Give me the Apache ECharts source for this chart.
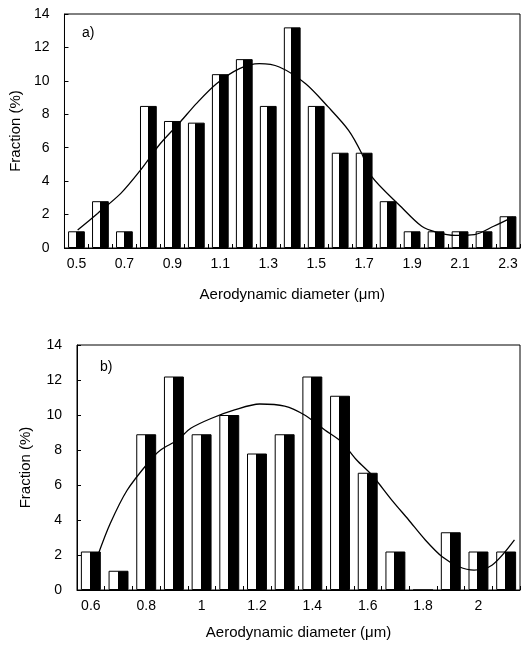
<!DOCTYPE html>
<html>
<head>
<meta charset="utf-8">
<script src="https://cdn.jsdelivr.net/npm/echarts@6/dist/echarts.min.js"></script>
<style>
html,body{margin:0;padding:0;background:#fff;}
#c{width:529px;height:650px;}
</style>
</head>
<body>
<div id="c"></div>
<script>
// Panel a)
var catsA = ['0.5','0.6','0.7','0.8','0.9','1','1.1','1.2','1.3','1.4','1.5','1.6','1.7','1.8','1.9','2','2.1','2.2','2.3'];
var labelsA = ['0.5','0.7','0.9','1.1','1.3','1.5','1.7','1.9','2.1','2.3'];
var barsA = [1.0, 2.8, 1.0, 8.5, 7.6, 7.5, 10.4, 11.3, 8.5, 13.2, 8.5, 5.7, 5.7, 2.8, 1.0, 1.0, 1.0, 1.0, 1.9];
var curveAx = [0.505, 0.588, 0.685, 0.767, 0.85, 0.933, 1.0, 1.084, 1.18, 1.263, 1.346, 1.456, 1.55, 1.635, 1.69, 1.73, 1.855, 1.94, 2.0, 2.08, 2.16, 2.24, 2.32];
var curveAy = [1.07, 2.07, 3.27, 4.66, 6.25, 7.54, 8.64, 9.83, 10.73, 11.03, 10.83, 9.83, 8.44, 7.04, 5.65, 4.3, 2.45, 1.3, 0.95, 0.75, 0.8, 1.3, 1.85];

// Panel b)
var catsB = ['0.6','0.7','0.8','0.9','1','1.1','1.2','1.3','1.4','1.5','1.6','1.7','1.8','1.9','2','2.1'];
var labelsB = ['0.6','0.8','1','1.2','1.4','1.6','1.8','2'];
var barsB = [2.2, 1.1, 8.9, 12.2, 8.9, 10.0, 7.8, 8.9, 12.2, 11.1, 6.7, 2.2, 0, 3.3, 2.2, 2.2];
var curveBx = [0.628, 0.67, 0.731, 0.81, 0.852, 0.913, 0.961, 1.034, 1.119, 1.21, 1.30, 1.372, 1.445, 1.505, 1.56, 1.615, 1.687, 1.748, 1.808, 1.869, 1.93, 1.984, 2.05, 2.13];
var curveBy = [2.1, 3.8, 5.7, 7.33, 8.0, 8.57, 9.24, 9.8, 10.29, 10.63, 10.51, 10.0, 9.14, 8.47, 7.43, 6.57, 5.14, 4.0, 2.86, 1.9, 1.33, 1.14, 1.43, 2.86];

var yTicks = [0, 2, 4, 6, 8, 10, 12, 14];

var FONT = '"Liberation Sans", Arial, sans-serif';
var barFill = {
  type: 'linear', x: 0, y: 0, x2: 1, y2: 0,
  colorStops: [
    {offset: 0, color: '#ffffff'},
    {offset: 0.45, color: '#ffffff'},
    {offset: 0.45, color: '#000000'},
    {offset: 1, color: '#000000'}
  ]
};
function pairs(xs, ys) { return xs.map(function (x, i) { return [x, ys[i]]; }); }

function catAxis(gi, cats, shown, nameGap) {
  return {
    type: 'category', gridIndex: gi, data: cats, boundaryGap: true,
    name: 'Aerodynamic diameter (\u03bcm)', nameLocation: 'middle', nameGap: nameGap,
    nameTextStyle: {color: '#000', fontSize: 15, fontFamily: FONT},
    axisLine: {lineStyle: {color: '#000', width: 1}},
    axisTick: {show: true, inside: true, length: 4, interval: 0, lineStyle: {color: '#000'}},
    axisLabel: {
      color: '#000', fontSize: 14, fontFamily: FONT, margin: 9,
      interval: function (idx, val) { return shown.indexOf(val) >= 0; }
    },
    splitLine: {show: false}
  };
}
function hidX(gi, min, max) {
  return {type: 'value', gridIndex: gi, min: min, max: max, show: false};
}
function yAxis(gi, nameGap) {
  return {
    type: 'value', gridIndex: gi, min: yTicks[0], max: yTicks[yTicks.length - 1], interval: 2,
    name: 'Fraction (%)', nameLocation: 'middle', nameGap: nameGap,
    nameTextStyle: {color: '#000', fontSize: 15, fontFamily: FONT},
    axisLine: {show: true, lineStyle: {color: '#000', width: 1}},
    axisTick: {show: true, inside: true, length: 4, lineStyle: {color: '#000'}},
    axisLabel: {color: '#000', fontSize: 14, fontFamily: FONT, margin: 15},
    splitLine: {show: false}
  };
}

var option = {
  animation: false,
  backgroundColor: '#fff',
  grid: [
    {left: 60, right: 9, top: 14, bottom: 402, show: true, borderColor: '#000', borderWidth: 1, containLabel: false},
    {left: 77, right: 9, top: 345, bottom: 60, show: true, borderColor: '#000', borderWidth: 1, containLabel: false}
  ],
  xAxis: [
    catAxis(0, catsA, labelsA, 39),
    hidX(0, 0.45, 2.35),
    catAxis(1, catsB, labelsB, 35),
    hidX(1, 0.55, 2.15)
  ],
  yAxis: [yAxis(0, 36), yAxis(1, 44)],
  graphic: [
    {type: 'text', left: 82, top: 26, style: {text: 'a)', fill: '#000', font: '14px ' + FONT}},
    {type: 'text', left: 100, top: 360, style: {text: 'b)', fill: '#000', font: '14px ' + FONT}}
  ],
  series: [
    {type: 'bar', xAxisIndex: 0, yAxisIndex: 0, data: barsA, barWidth: '70%',
     itemStyle: {color: barFill, borderColor: '#000', borderWidth: 1}},
    {type: 'line', xAxisIndex: 1, yAxisIndex: 0, data: pairs(curveAx, curveAy), smooth: 0.3,
     showSymbol: false, lineStyle: {color: '#000', width: 1.3}, z: 5},
    {type: 'bar', xAxisIndex: 2, yAxisIndex: 1, data: barsB, barWidth: '72%',
     itemStyle: {color: barFill, borderColor: '#000', borderWidth: 1}},
    {type: 'line', xAxisIndex: 3, yAxisIndex: 1, data: pairs(curveBx, curveBy), smooth: 0.3,
     showSymbol: false, lineStyle: {color: '#000', width: 1.3}, z: 5}
  ]
};
var chart = echarts.init(document.getElementById('c'), null, {renderer: 'canvas'});
chart.setOption(option);
</script>
</body>
</html>
